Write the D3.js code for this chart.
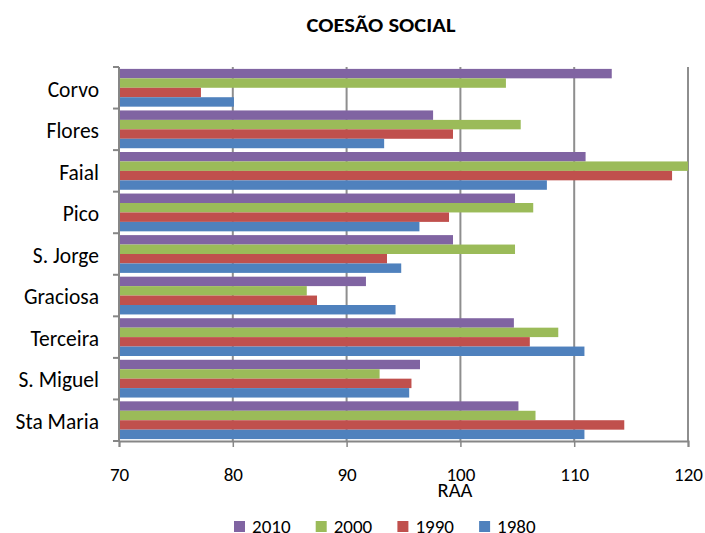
<!DOCTYPE html>
<html>
<head>
<meta charset="utf-8">
<script src="https://cdn.jsdelivr.net/npm/d3@7"></script>
<style>
  body { margin: 0; background: #fff; }
  svg { display: block; font-family: Carlito, Lato, "Liberation Sans", sans-serif; }
</style>
</head>
<body>
<svg id="chart" width="705" height="533"></svg>
<script>
// Islands, top to bottom
const islands = ["Corvo", "Flores", "Faial", "Pico", "S. Jorge", "Graciosa", "Terceira", "S. Miguel", "Sta Maria"];
// Series, drawn top to bottom inside each island's band
const years = ["2010", "2000", "1990", "1980"];
const values2010 = [113.3, 97.6, 111.0, 104.8, 99.35, 91.7, 104.7, 96.45, 105.1];
const values2000 = [104.0, 105.3, 120.0, 106.4, 104.8, 86.5, 108.6, 92.9, 106.6];
const values1990 = [77.2, 99.35, 118.6, 99.0, 93.55, 87.4, 106.1, 95.7, 114.4];
const values1980 = [80.1, 93.3, 107.6, 96.4, 94.8, 94.3, 110.9, 95.5, 110.9];
const xTicks = [70, 80, 90, 100, 110, 120];
const colors = ["#8064A2", "#9BBB59", "#C0504D", "#4F81BD"];

const seriesValues = [values2010, values2000, values1990, values1980];
const rows = [];
years.forEach((yr, si) => {
  islands.forEach((isl, i) => rows.push({ year: yr, island: isl, value: seriesValues[si][i], color: colors[si] }));
});

const svg = d3.select("#chart");
const margin = { left: 119, right: 17, top: 67, bottom: 92 };
const W = 705, H = 533;

const x = d3.scaleLinear().domain([70, 120]).range([margin.left, W - margin.right]);
const y = d3.scaleBand().domain(islands).range([margin.top, H - margin.bottom]).paddingInner(0).paddingOuter(0);
const inner = d3.scaleBand().domain(years).range([0, y.bandwidth()]).paddingInner(0).paddingOuter(0.2);

// Title
svg.append("text")
  .attr("x", 381).attr("y", 31.5)
  .attr("text-anchor", "middle")
  .attr("font-weight", "bold")
  .attr("font-size", 19.5)
  .attr("textLength", 149)
  .attr("lengthAdjust", "spacingAndGlyphs")
  .attr("fill", "#000")
  .text("COESÃO SOCIAL");

// Vertical gridlines
svg.append("g").selectAll("line")
  .data(xTicks.slice(1))
  .join("line")
  .attr("x1", d => x(d)).attr("x2", d => x(d))
  .attr("y1", margin.top).attr("y2", H - margin.bottom)
  .attr("stroke", "#8e8e8e").attr("stroke-width", 2);

// Bars
svg.append("g").selectAll("rect")
  .data(rows)
  .join("rect")
  .attr("x", x(70))
  .attr("y", d => y(d.island) + inner(d.year))
  .attr("width", d => x(d.value) - x(70))
  .attr("height", inner.bandwidth())
  .attr("fill", d => d.color);

// Bottom axis
const xAxis = d3.axisBottom(x).tickValues(xTicks).tickSize(6).tickPadding(21).tickFormat(d3.format("d"));
const gx = svg.append("g").attr("transform", `translate(0,${H - margin.bottom})`).call(xAxis);
gx.select(".domain").attr("stroke", "#868686").attr("stroke-width", 2);
gx.selectAll(".tick line").attr("stroke", "#868686").attr("stroke-width", 1.5);
gx.selectAll(".tick text").attr("font-size", 19).attr("fill", "#000").attr("font-family", "Carlito, Lato, sans-serif");

// Left axis: ticks sit on the band boundaries
const gy = svg.append("g").attr("transform", `translate(${margin.left},0)`);
gy.append("line")
  .attr("x1", 0).attr("x2", 0)
  .attr("y1", margin.top).attr("y2", H - margin.bottom + 1)
  .attr("stroke", "#868686").attr("stroke-width", 2);
const bounds = islands.map(d => y(d)).concat([y(islands[islands.length - 1]) + y.bandwidth()]);
gy.selectAll("line.tk")
  .data(bounds)
  .join("line")
  .attr("class", "tk")
  .attr("x1", -6).attr("x2", 0)
  .attr("y1", d => d).attr("y2", d => d)
  .attr("stroke", "#868686").attr("stroke-width", 2);
gy.selectAll("text")
  .data(islands)
  .join("text")
  .attr("x", -20)
  .attr("y", d => y(d) + y.bandwidth() / 2 + 1)
  .attr("dy", "0.36em")
  .attr("text-anchor", "end")
  .attr("font-size", 21.5)
  .attr("fill", "#000")
  .text(d => d);

// Axis title
svg.append("text")
  .attr("x", 455).attr("y", 497)
  .attr("text-anchor", "middle")
  .attr("font-size", 20.5)
  .attr("fill", "#000")
  .text("RAA");

// Legend
const legend = svg.append("g").selectAll("g")
  .data(years)
  .join("g")
  .attr("transform", (d, i) => `translate(${234 + i * 81.7},521)`);
legend.append("rect").attr("width", 11).attr("height", 11).attr("fill", (d, i) => colors[i]);
legend.append("text")
  .attr("x", 18).attr("y", 11.5)
  .attr("font-size", 19).attr("fill", "#000")
  .text(d => d);
</script>
</body>
</html>
